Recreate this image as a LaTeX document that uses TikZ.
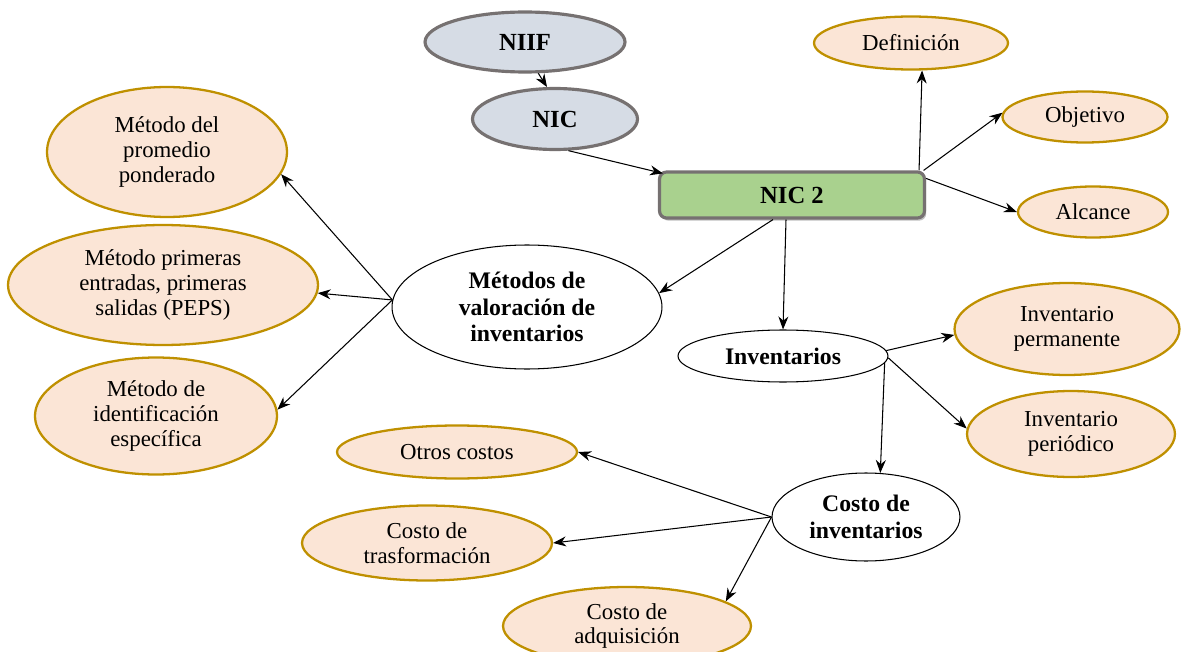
\documentclass[tikz,border=0pt]{standalone}
\usepackage{fontspec}
\setmainfont{Liberation Serif}
\usetikzlibrary{shapes.geometric,arrows.meta,shadows}
\definecolor{peach}{RGB}{251,229,214}
\definecolor{gold}{RGB}{191,144,0}
\definecolor{grayb}{RGB}{118,113,113}
\definecolor{bluegray}{RGB}{214,220,229}
\definecolor{greenf}{RGB}{169,209,142}
\tikzset{
  base/.style={ellipse,inner sep=0pt,align=center,font=\fontsize{13}{14}\selectfont},
  topic/.style={base,draw=grayb,line width=1.8pt,fill=bluegray,font=\fontsize{14}{15}\selectfont\bfseries},
  leaf/.style={base,draw=gold,line width=1.3pt,fill=peach},
  hub/.style={base,draw=black,line width=0.6pt,fill=white,font=\fontsize{13.5}{15}\selectfont\bfseries},
  mainbox/.style={rectangle,rounded corners=4pt,draw=grayb,line width=1.8pt,fill=greenf,
    drop shadow={shadow xshift=1pt,shadow yshift=-1.5pt,opacity=0.5},font=\fontsize{14}{15}\selectfont\bfseries},
  conn/.style={-{Stealth[length=2.6mm,width=2mm]},line width=0.6pt,black}
}
\begin{document}
\begin{tikzpicture}[x=0.02cm,y=-0.02cm]
\useasboundingbox (0,0) rectangle (1184,652);
\node[topic,minimum width=4cm,minimum height=1.2cm] (niif) at (525,42) {NIIF};
\node[topic,minimum width=3.3cm,minimum height=1.22cm] (nic) at (555,119) {NIC};
\node[mainbox,minimum width=5.3cm,minimum height=0.92cm] (nic2) at (792,195) {NIC 2};
\node[leaf,minimum width=3.88cm,minimum height=1.06cm] (def) at (911,43) {Definición};
\node[leaf,minimum width=3.3cm,minimum height=1.02cm] (obj) at (1085,117) {Objetivo};
\node[leaf,minimum width=3cm,minimum height=1.02cm] (alc) at (1093,212) {Alcance};
\node[leaf,minimum width=4.8cm,minimum height=2.6cm] (prom) at (167,152) {Método del\\promedio\\ponderado};
\node[leaf,minimum width=6.2cm,minimum height=2.4cm] (peps) at (163,285) {Método primeras\\entradas, primeras\\salidas (PEPS)};
\node[leaf,minimum width=4.84cm,minimum height=2.34cm] (ident) at (156,416) {Método de\\identificación\\específica};
\node[hub,minimum width=5.4cm,minimum height=2.48cm] (met) at (527,307) {Métodos de\\valoración de\\inventarios};
\node[hub,minimum width=4.2cm,minimum height=1.04cm] (inv) at (783,356) {Inventarios};
\node[leaf,minimum width=4.5cm,minimum height=1.84cm] (perm) at (1067,329) {Inventario\\permanente};
\node[leaf,minimum width=4.16cm,minimum height=1.72cm] (peri) at (1071,434) {Inventario\\periódico};
\node[hub,minimum width=3.76cm,minimum height=1.76cm] (costo) at (866,517) {Costo de\\inventarios};
\node[leaf,minimum width=4.8cm,minimum height=1.06cm] (otros) at (457,452) {Otros costos};
\node[leaf,minimum width=5cm,minimum height=1.5cm] (trans) at (427,543) {Costo de\\trasformación};
\node[leaf,minimum width=4.96cm,minimum height=1.56cm] (adq) at (627,626) {Costo de\\adquisición};

% connectors
\draw[conn] (niif.-67) -- (nic.104);
\draw[conn] (nic.-67.5) -- ([xshift=0.1cm,yshift=-0.06cm]nic2.north west);
\draw[conn] ([xshift=-0.14cm]nic2.north east) -- (def.-68);
\draw[conn] ([xshift=-0.05cm]nic2.north east) -- (obj.177);
\draw[conn] ([yshift=-0.16cm]nic2.north east) -- (alc.west);
\draw[conn] ([xshift=-0.38cm]nic2.south) -- (met.6);
\draw[conn] ([xshift=-0.12cm]nic2.south) -- (inv.north);
\draw[conn] (met.177) -- (prom.-11);
\draw[conn] (met.177) -- (peps.-3);
\draw[conn] (met.177) -- (ident.3);
\draw[conn] (inv.3) -- (perm.183);
\draw[conn] (inv.-1) -- (peri.177);
\draw[conn] (inv.-4) -- (costo.72);
\draw[conn] (costo.west) -- (otros.east);
\draw[conn] (costo.west) -- (trans.east);
\draw[conn] (costo.west) -- (adq.14);
\end{tikzpicture}
\end{document}
